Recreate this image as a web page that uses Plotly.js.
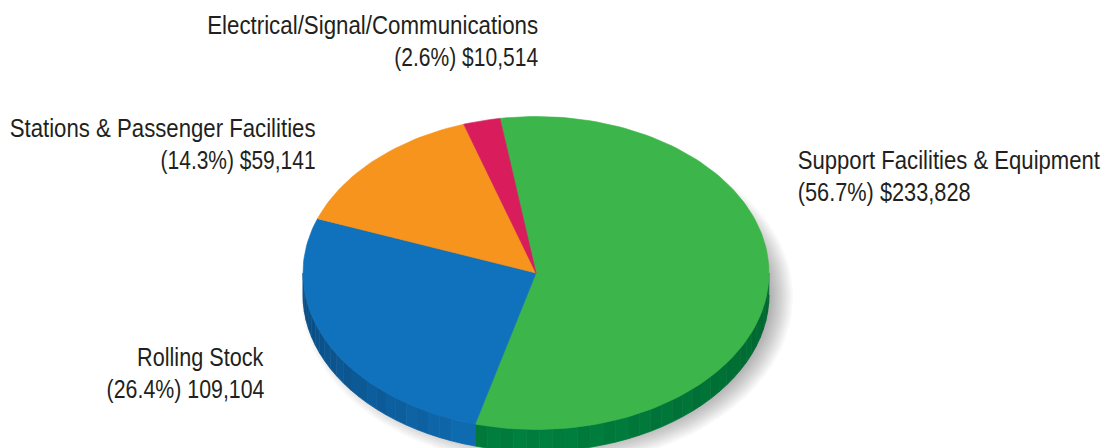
<!DOCTYPE html>
<html>
<head>
<meta charset="utf-8">
<script src="https://cdn.plot.ly/plotly-3.0.1.min.js"></script>
<style>html,body{margin:0;padding:0;background:#fff;overflow:hidden}#chart{width:1109px;height:448px}</style>
</head>
<body>
<div id="chart"></div>
<script>
// Capital spending by asset category, dollars in thousands
const categories = ["Support Facilities & Equipment", "Rolling Stock", "Stations & Passenger Facilities", "Electrical/Signal/Communications"];
const amounts = [233828, 109104, 59141, 10514];
const shareLabels = ["(56.7%) $233,828", "(26.4%) 109,104", "(14.3%) $59,141", "(2.6%) $10,514"];
const topColors = ["#3cb54a", "#1072bc", "#f7941d", "#d91c5c"];
// Side wall shades: [lit end near the front, dark end near the rim edge]
const wallColors = [["#00813f", "#00662f"], ["#1072ba", "#094d84"]];

// Disc geometry, in page pixels
const W = 1109, H = 448;
const cx = 536, cy = 273, rx = 233, ry = 156.5, depth = 22;
const startAngle = -8.9;

const rad = d => d * Math.PI / 180;
const px = t => cx + rx * Math.sin(rad(t));
const py = (t, drop) => cy - ry * Math.cos(rad(t)) + (drop || 0);

const total = amounts.reduce((a, b) => a + b, 0);
const spans = [];
let cursor = startAngle;
amounts.forEach(v => { const sweep = v / total * 360; spans.push([cursor, cursor + sweep]); cursor += sweep; });

const traces = [];

// Soft drop shadow built from stacked translucent ellipses
const shadowLayers = 14;
for (let i = 0; i < shadowLayers; i++) {
  const grow = 13 - i * 2;
  const xs = [], ys = [];
  for (let t = 0; t <= 360; t += 3) {
    xs.push(547 + (rx + grow) * Math.sin(rad(t)));
    ys.push(297 - (ry + grow) * Math.cos(rad(t)));
  }
  traces.push({x: xs, y: ys, type: "scatter", mode: "lines", fill: "toself",
    fillcolor: "rgba(0,0,0,0.026)", line: {width: 0}, hoverinfo: "skip"});
}

const hex = c => [1, 3, 5].map(i => parseInt(c.substr(i, 2), 16));
const mix = (a, b, f, dim) => { const A = hex(a), B = hex(b); return "rgb(" + A.map((v, i) => Math.round((v + (B[i] - v) * f) * dim)).join(",") + ")"; };

// Faceted side wall along the front half of the rim; neighbouring facets differ slightly
const strip = 3.2;
for (let s = 0; s < 2; s++) {
  const from = Math.max(spans[s][0], 90), to = Math.min(spans[s][1], 270);
  const steps = Math.ceil((to - from) / strip);
  for (let k = 0; k < steps; k++) {
    const a = from + (to - from) * k / steps, b = from + (to - from) * (k + 1) / steps;
    const mid = (a + b) / 2;
    const f = s === 0 ? Math.min(1, Math.abs(mid - 180) / 90) : Math.pow((mid - spans[1][0]) / (270 - spans[1][0]), 0.6);
    const col = mix(wallColors[s][0], wallColors[s][1], f, k % 2 ? 1 : 0.97);
    const xs = [], ys = [];
    for (let j = 0; j <= 3; j++) { const t = a + (b - a) * j / 3; xs.push(px(t)); ys.push(py(t)); }
    for (let j = 3; j >= 0; j--) { const t = a + (b - a) * j / 3; xs.push(px(t)); ys.push(py(t, depth)); }
    traces.push({x: xs, y: ys, type: "scatter", mode: "lines", fill: "toself", fillcolor: col,
      line: {width: 0.8, color: col}, hoverinfo: "skip"});
  }
}

// Top face wedges
categories.forEach((name, i) => {
  const xs = [cx], ys = [cy];
  const [a, b] = spans[i];
  const n = Math.ceil((b - a) / 1.5);
  for (let k = 0; k <= n; k++) { const t = a + (b - a) * k / n; xs.push(px(t)); ys.push(py(t)); }
  xs.push(cx); ys.push(cy);
  traces.push({x: xs, y: ys, name: name, type: "scatter", mode: "lines", fill: "toself",
    fillcolor: topColors[i], line: {width: 0.6, color: topColors[i]},
    text: name + " " + shareLabels[i], hoverinfo: "text"});
});

// Per label: anchor x, name line y, share line y, side, name line width, share line width
const labelPlacement = [
  [796, 160, 192, "left", 303, 173],
  [266, 357, 389, "right", 127, 158],
  [317, 128, 160, "right", 306, 155],
  [540, 25, 57, "right", 331, 144]
];
const labelFont = {family: "'Liberation Sans',Arial,sans-serif", size: 26, color: "#231f20"};
const annotations = [];
const fitted = [];
categories.forEach((name, i) => {
  const p = labelPlacement[i];
  [[name, p[1], p[4]], [shareLabels[i], p[2], p[5]]].forEach(([text, y, width]) => {
    annotations.push({x: p[0], y: y, xref: "x", yref: "y", xanchor: p[3], yanchor: "middle",
      showarrow: false, text: text, font: labelFont});
    fitted.push({x: p[0], width: width});
  });
});

const layout = {
  width: W, height: H, margin: {l: 0, r: 0, t: 0, b: 0}, showlegend: false,
  paper_bgcolor: "#fff", plot_bgcolor: "#fff", annotations: annotations,
  xaxis: {range: [0, W], visible: false, fixedrange: true},
  yaxis: {range: [H, 0], visible: false, fixedrange: true}
};
Plotly.newPlot("chart", traces, layout, {displayModeBar: false}).then(gd => {
  // The labels are set in a condensed cut: squeeze each line about its anchor
  gd.querySelectorAll("g.annotation").forEach(g => {
    const fit = fitted[+g.getAttribute("data-index")];
    const text = g.querySelector("text");
    const sx = fit.width / text.getBBox().width;
    g.setAttribute("transform", `translate(${fit.x},0) scale(${sx},1) translate(${-fit.x},0)`);
  });
});
</script>
</body>
</html>
